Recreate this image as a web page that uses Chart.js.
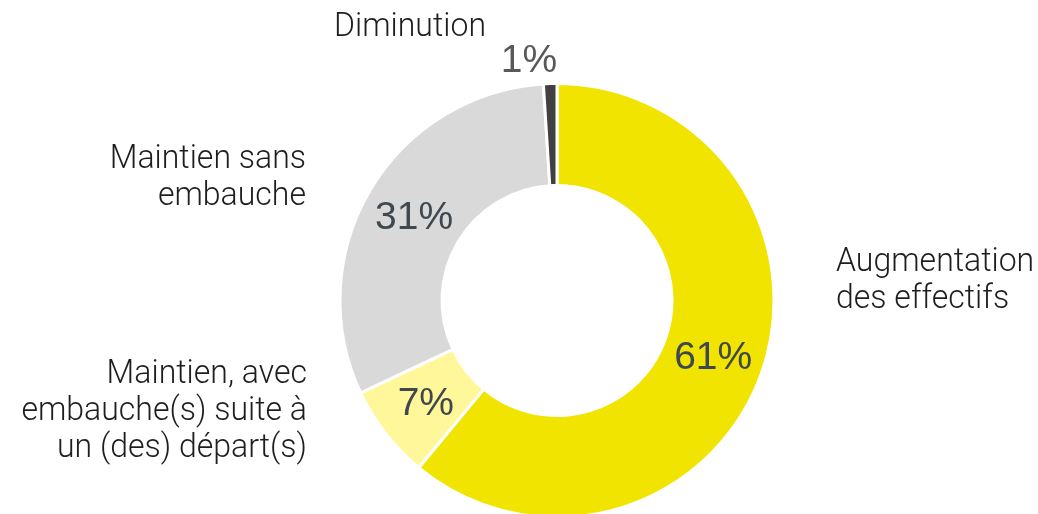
<!DOCTYPE html>
<html lang="fr">
<head>
    <meta charset="UTF-8">
    <title>Évolution des effectifs</title>
    <script src="https://cdn.jsdelivr.net/npm/chart.js"></script>
    <style>
        body {
            margin: 0;
            background: #FFFFFF;
            overflow: hidden;
        }

        .chart-box {
            width: 1038px;
            height: 519px;
        }
    </style>
</head>
<body>
    <div class="chart-box">
        <canvas id="donut"></canvas>
    </div>

    <script>
        // values, clockwise from 12 o'clock
        const categories = [
            ['Augmentation', 'des effectifs'],
            ['Maintien, avec', 'embauche(s) suite à', 'un (des) départ(s)'],
            ['Maintien sans', 'embauche'],
            ['Diminution']
        ];
        const shares = [61, 7, 31, 1];
        const shareLabels = ['61%', '7%', '31%', '1%'];
        const sliceColors = ['#F0E400', '#FFF799', '#D9D9D9', '#404040'];

        // where each text sits, relative to the centre of the ring
        const labelLayout = [
            { dx: 279, dy: -38, align: 'left', pctInside: true },
            { dx: -250, dy: 74, align: 'right', pctInside: true },
            { dx: -251, dy: -141, align: 'right', pctInside: true },
            { dx: -147, dy: -273, align: 'center', pctInside: false, pdx: -28, pdy: -239 }
        ];

        const labelPlugin = {
            id: 'sliceLabels',
            afterDatasetsDraw(chart) {
                const ctx = chart.ctx;
                const arcs = chart.getDatasetMeta(0).data;
                const cx = arcs[0].x;
                const cy = arcs[0].y;
                const lineH = 37;

                ctx.save();
                ctx.textBaseline = 'middle';
                arcs.forEach((arc, i) => {
                    const lay = labelLayout[i];

                    // category name (slightly narrow face, as in the source)
                    ctx.font = '300 33px Roboto';
                    ctx.fillStyle = '#1E1E1E';
                    ctx.textAlign = lay.align;
                    categories[i].forEach((line, k) => {
                        ctx.save();
                        ctx.translate(cx + lay.dx, cy + lay.dy + k * lineH);
                        ctx.scale(0.97, 1);
                        ctx.fillText(line, 0, 0);
                        ctx.restore();
                    });

                    // percentage
                    ctx.font = '39px "Liberation Sans", Arial, sans-serif';
                    ctx.textAlign = 'center';
                    if (lay.pctInside) {
                        const p = arc.tooltipPosition();
                        ctx.fillStyle = '#3F484E';
                        ctx.fillText(shareLabels[i], p.x, p.y + 2);
                    } else {
                        ctx.fillStyle = '#595959';
                        ctx.fillText(shareLabels[i], cx + lay.pdx, cy + lay.pdy);
                    }
                });
                ctx.restore();
            }
        };

        new Chart(document.getElementById('donut'), {
            type: 'doughnut',
            data: {
                labels: categories.map(c => c.join(' ')),
                datasets: [{
                    data: shares,
                    backgroundColor: sliceColors,
                    borderColor: '#FFFFFF',
                    borderWidth: 3,
                    hoverOffset: 0
                }]
            },
            options: {
                responsive: true,
                maintainAspectRatio: false,
                animation: false,
                cutout: '53%',
                layout: {
                    padding: { left: 76, right: 0, top: 82, bottom: 0 }
                },
                plugins: {
                    legend: { display: false },
                    tooltip: { enabled: false }
                }
            },
            plugins: [labelPlugin]
        });
    </script>
</body>
</html>
